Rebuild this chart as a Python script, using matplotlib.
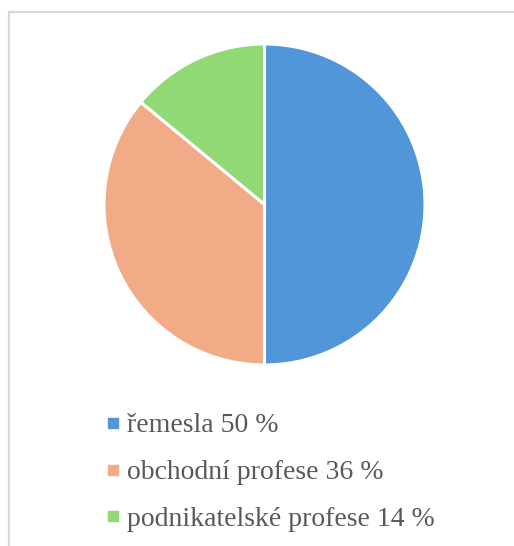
import matplotlib.pyplot as plt
from matplotlib.lines import Line2D
from matplotlib.patches import Rectangle

kategorie = ['řemesla', 'obchodní profese', 'podnikatelské profese']
podily = [50, 36, 14]
barvy = ['#5096D8', '#F1AB86', '#91D975']

W, H = 514, 546
fig = plt.figure(figsize=(W / 100, H / 100), dpi=100)

# ramecek grafu (orezany vpravo a dole)
fig.patches.append(Rectangle((9 / W, -0.01), 1.0, 1 - 11.5 / H + 0.01,
                             transform=fig.transFigure, fill=False,
                             edgecolor='#D9D9D9', linewidth=1.6))

cx, cy, r = 264.5, 204.5, 160.5
ax = fig.add_axes([(cx - r) / W, 1 - (cy + r) / H, 2 * r / W, 2 * r / H])
ax.pie(podily, colors=barvy, startangle=90, counterclock=False,
       wedgeprops={'edgecolor': 'white', 'linewidth': 2.2})
ax.set_xlim(-1, 1)
ax.set_ylim(-1, 1)
ax.set_aspect('equal')
ax.axis('off')

popisky = [f'{k} {p} %' for k, p in zip(kategorie, podily)]
znacky = [Line2D([], [], marker='s', linestyle='none', markersize=6.5,
                 markerfacecolor=c, markeredgecolor=c) for c in barvy]
fig.legend(znacky, popisky, loc='upper left',
           bbox_to_anchor=(107.5 / W, 1 - 413 / H), frameon=False,
           prop={'family': 'Liberation Serif', 'size': 20},
           labelcolor='#595959', handlelength=0.4, handletextpad=0.31,
           labelspacing=0.77, borderpad=0, borderaxespad=0)

fig.savefig('out.png', dpi=100)
